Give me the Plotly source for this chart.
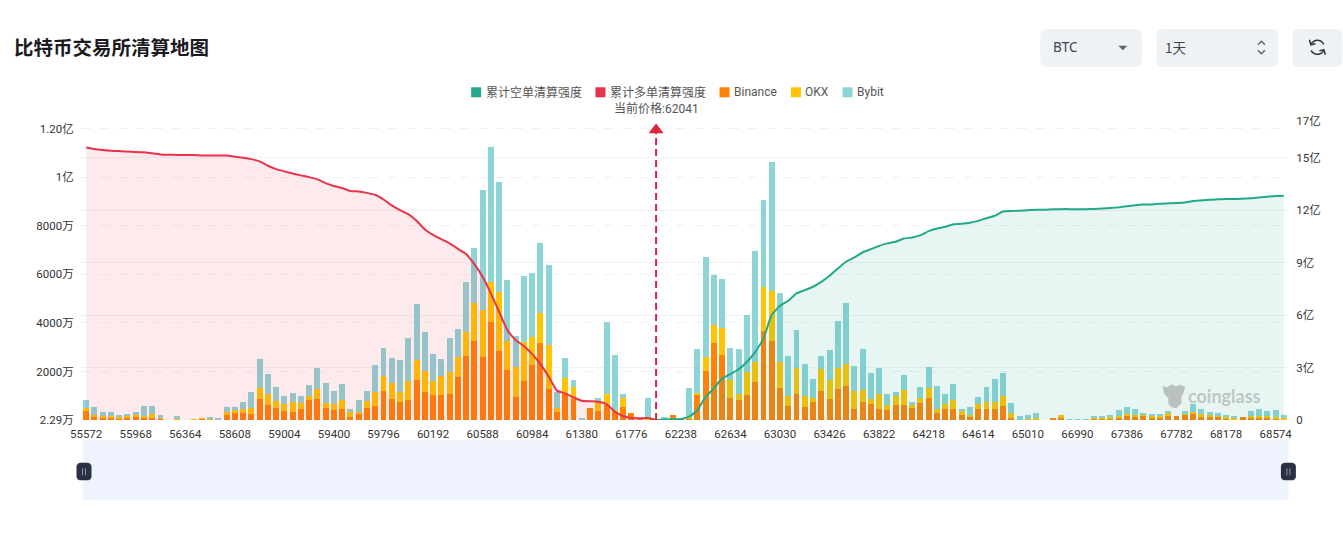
import math
import plotly.graph_objects as go

# Liquidation levels (price buckets)
prices = [
    55572, 55638, 55704, 55770, 55836, 55902, 55968, 56034, 56100, 56166, 56232, 56298, 56364,
    58278, 58344, 58410, 58476, 58542, 58608, 58674, 58740, 58806, 58872, 58938, 59004, 59070,
    59136, 59202, 59268, 59334, 59400, 59466, 59532, 59598, 59664, 59730, 59796, 59862, 59928,
    59994, 60060, 60126, 60192, 60258, 60324, 60390, 60456, 60522, 60588, 60654, 60720, 60786,
    60852, 60918, 60984, 61050, 61116, 61182, 61248, 61314, 61380, 61446, 61512, 61578, 61644,
    61710, 61776, 61842, 61908, 62040, 62106, 62172, 62238, 62304, 62370, 62436, 62502, 62568,
    62634, 62700, 62766, 62832, 62898, 62964, 63030, 63096, 63162, 63228, 63294, 63360, 63426,
    63492, 63558, 63624, 63690, 63756, 63822, 63888, 63954, 64020, 64086, 64152, 64218, 64284,
    64350, 64416, 64482, 64548, 64614, 64680, 64746, 64812, 64878, 64944, 65010, 65076, 66726,
    66792, 66858, 66924, 66990, 67056, 67122, 67188, 67254, 67320, 67386, 67452, 67518, 67584,
    67650, 67716, 67782, 67848, 67914, 67980, 68046, 68112, 68178, 68244, 68310, 68376, 68442,
    68508, 68574, 68640,
]
tick_prices = prices[::6][:25]

# Per-exchange liquidation volume, in units of 10k USD
binance = [
    380, 136, 109, 109, 68, 122, 150, 95, 95, 68, 0, 15, 0, 27, 54, 40, 5, 204, 286, 300,
    258, 870, 640, 490, 354, 340, 462, 816, 857, 503, 408, 476, 136, 272, 503, 571, 1183, 870, 748, 816,
    1632, 1142, 1020, 1020, 1061, 1754, 2652, 3237, 2611, 4039, 2856, 2081, 938, 1591, 2258, 3182, 1265, 326, 1088, 884,
    27, 490, 367, 612, 340, 530, 272, 82, 20, 0, 50, 190, 10, 68, 1020, 2013, 3155, 2693, 925, 843,
    1020, 1564, 3672, 3237, 1306, 585, 1061, 530, 748, 1210, 884, 1278, 1414, 462, 748, 680, 462, 408, 626, 626,
    490, 694, 911, 272, 435, 462, 190, 136, 435, 435, 435, 571, 68, 0, 20, 10, 0, 95, 95, 0,
    0, 0, 68, 68, 68, 122, 177, 150, 177, 109, 109, 177, 177, 218, 258, 136, 136, 136, 68, 41,
    109, 109, 95, 109, 68, 10,
]
okx = [
    110, 54, 68, 68, 41, 27, 41, 68, 150, 27, 0, 30, 0, 14, 27, 40, 10, 136, 122, 150,
    252, 435, 435, 300, 312, 394, 231, 177, 408, 204, 258, 340, 204, 68, 286, 571, 626, 666, 408, 775,
    843, 898, 585, 789, 898, 857, 966, 1578, 1904, 1646, 2434, 1183, 1264, 1605, 1156, 1210, 1836, 177, 639, 490,
    14, 0, 435, 462, 68, 394, 0, 0, 20, 0, 30, 0, 0, 41, 109, 571, 762, 1115, 734, 245,
    952, 843, 1795, 2060, 1074, 422, 1088, 476, 150, 884, 775, 857, 884, 734, 490, 204, 612, 218, 367, 598,
    163, 204, 394, 204, 218, 354, 190, 54, 245, 289, 326, 408, 204, 0, 20, 85, 0, 0, 110, 0,
    0, 0, 41, 41, 41, 54, 54, 54, 68, 54, 41, 122, 0, 68, 68, 95, 54, 41, 54, 54,
    0, 68, 68, 54, 54, 100,
]
bybit = [
    326, 367, 136, 163, 95, 95, 122, 422, 354, 109, 0, 140, 0, 0, 0, 40, 55, 204, 122, 286,
    666, 1210, 830, 570, 340, 381, 286, 449, 898, 830, 530, 680, 136, 476, 394, 1142, 1156, 1020, 1319, 1782,
    2289, 1578, 1102, 707, 1428, 1129, 2066, 2256, 4959, 5546, 4527, 2488, 1251, 2735, 2627, 2912, 3283, 639, 830, 272,
    27, 0, 122, 2965, 2258, 136, 0, 0, 880, 0, 30, 0, 0, 1224, 1809, 4144, 2042, 1986, 1319, 1850,
    2353, 4554, 3595, 5343, 2842, 1618, 1564, 1319, 775, 558, 1224, 1943, 2508, 1047, 1700, 1047, 1061, 462, 177, 612,
    82, 449, 870, 911, 408, 653, 54, 354, 258, 639, 911, 979, 422, 150, 150, 177, 0, 0, 0, 14,
    10, 20, 41, 41, 95, 218, 313, 245, 41, 95, 95, 82, 0, 68, 326, 231, 122, 95, 95, 82,
    0, 177, 286, 190, 299, 80,
]

# Cumulative liquidation intensity, in units of 100M USD
long_cumulative = [
    15.59, 15.50, 15.44, 15.40, 15.38, 15.36, 15.32, 15.31, 15.25, 15.19, 15.17, 15.16, 15.15, 15.15,
    15.13, 15.13, 15.13, 15.12, 15.06, 15.00, 14.92, 14.79, 14.54, 14.35, 14.22, 14.10, 13.99, 13.89,
    13.76, 13.55, 13.38, 13.27, 13.09, 13.07, 12.99, 12.88, 12.61, 12.27, 12.00, 11.77, 11.39, 10.90,
    10.59, 10.34, 10.10, 9.79, 9.49, 8.91, 8.19, 7.24, 6.19, 5.14, 4.57, 4.23, 3.77, 3.20, 2.48,
    1.68, 1.52, 1.30, 1.10, 1.07, 1.05, 0.91, 0.48, 0.23, 0.11, 0.10, 0.11, 0.0,
]
short_cumulative = [
    0.0, 0.03, 0.04, 0.06, 0.19, 0.57, 1.33, 1.81, 2.38, 2.63, 2.90, 3.33, 3.90, 4.67, 6.00, 6.53,
    6.82, 7.24, 7.43, 7.62, 7.90, 8.25, 8.67, 9.05, 9.30, 9.58, 9.77, 9.96, 10.10, 10.19, 10.38, 10.44,
    10.57, 10.80, 10.95, 11.05, 11.20, 11.22, 11.28, 11.39, 11.54, 11.68, 11.92, 11.95, 11.97, 12.00, 12.03, 12.03,
    12.05, 12.06, 12.06, 12.05, 12.06, 12.07, 12.09, 12.12, 12.16, 12.22, 12.28, 12.32, 12.33, 12.37,
    12.39, 12.41, 12.44, 12.52, 12.56, 12.60, 12.62, 12.64, 12.64, 12.66, 12.68, 12.73, 12.77, 12.81, 12.83,
]

left_ticks = [2.29, 2000, 4000, 6000, 8000, 10000, 12000]
left_labels = ["2.29万", "2000万", "4000万", "6000万", "8000万", "1亿", "1.20亿"]
right_ticks = [0, 3, 6, 9, 12, 15, 17.1]
right_labels = ["0", "3亿", "6亿", "9亿", "12亿", "15亿", "17亿"]

current_price_bucket = "62040"
arrow_top = 16.58

GREEN = "#22a98a"
RED = "#e8334a"
ORANGE = "#ff8207"
YELLOW = "#ffc403"
TEAL = "#8dd4d6"
FONT = 'Roboto, "Noto Sans CJK SC", sans-serif'

W, H = 1343, 537
L, R, T, B = 82.0, 1287.6, 120.7, 419.7


def px(x):
    return (x - L) / (R - L)


def py(y):
    return (B - y) / (B - T)


def poly(points, close=True):
    d = "M" + " L".join(f"{px(x):.5f},{py(y):.5f}" for x, y in points)
    return d + (" Z" if close else "")


def round_rect(x0, y0, x1, y1, r):
    """Rounded rectangle outline as a closed polygon, in window pixels."""
    pts = []
    for cx, cy, a0 in ((x1 - r, y0 + r, -90), (x1 - r, y1 - r, 0), (x0 + r, y1 - r, 90), (x0 + r, y0 + r, 180)):
        for k in range(7):
            a = math.radians(a0 + 15 * k)
            pts.append((cx + r * math.cos(a), cy + r * math.sin(a)))
    return poly(pts)


def arc(cx, cy, r, a0, a1, n=14):
    return [(cx + r * math.cos(math.radians(a0 + (a1 - a0) * k / n)),
             cy + r * math.sin(math.radians(a0 + (a1 - a0) * k / n))) for k in range(n + 1)]


cats = [str(p) for p in prices]
fig = go.Figure()

for name, vals, col in (("Binance", binance, ORANGE), ("OKX", okx, YELLOW), ("Bybit", bybit, TEAL)):
    fig.add_bar(x=cats, y=vals, name=name, marker=dict(color=col, line_width=0), yaxis="y", showlegend=False)

fig.add_scatter(
    x=cats[:len(long_cumulative)], y=long_cumulative, yaxis="y2", name="累计多单清算强度", mode="lines",
    line=dict(color=RED, width=2, shape="spline", smoothing=0.5),
    fill="tozeroy", fillcolor="rgba(232,51,74,0.10)", showlegend=False,
)
fig.add_scatter(
    x=cats[-len(short_cumulative):], y=short_cumulative, yaxis="y2", name="累计空单清算强度", mode="lines",
    line=dict(color=GREEN, width=2, shape="spline", smoothing=0.5),
    fill="tozeroy", fillcolor="rgba(34,169,138,0.10)", showlegend=False,
)
fig.add_scatter(
    x=[current_price_bucket, current_price_bucket], y=[0, arrow_top], yaxis="y2", mode="lines+markers",
    line=dict(color="#dc2440", width=2, dash="7px,4px"),
    marker=dict(symbol="triangle-up", size=[0, 13], color="#dc2440", opacity=1, line_width=0),
    showlegend=False, hoverinfo="skip",
)

shapes = []
annotations = []


def text(x, y, s, size=12, color="#555", anchor="left", weight=None, family=FONT):
    annotations.append(dict(
        x=px(x), y=py(y), xref="paper", yref="paper", text=s, showarrow=False, xanchor=anchor, yanchor="middle",
        align=anchor, borderpad=0, font=dict(family=family, size=size, color=color, weight=weight),
    ))


def fill_shape(path, color, layer="above"):
    shapes.append(dict(type="path", xref="paper", yref="paper", path=path, fillcolor=color,
                       line=dict(width=0), layer=layer))


def stroke_shape(path, color, width):
    shapes.append(dict(type="path", xref="paper", yref="paper", path=path,
                       line=dict(color=color, width=width)))


# Page heading
text(13.5, 46.5, "比特币交易所清算地图", size=19.5, color="#1b1b1f", weight=700, family='"Noto Sans CJK SC", sans-serif')

# Legend row
legend_items = [
    (471, 484.5, "累计空单清算强度", GREEN),
    (595.3, 608.5, "累计多单清算强度", RED),
    (719.3, 732.3, "Binance", ORANGE),
    (790.7, 803.7, "OKX", YELLOW),
    (842.3, 855.3, "Bybit", TEAL),
]
for sx, tx, label, col in legend_items:
    fill_shape(poly([(sx, 87), (sx + 10, 87), (sx + 10, 97), (sx, 97)]), col)
    text(tx, 92, label)
text(656, 107.7, "当前价格:62041", anchor="center")

# Symbol / period selectors and refresh button
for x0, x1 in ((1041, 1140.5), (1157, 1277), (1293, 1341)):
    fill_shape(round_rect(x0 - 1, 29, x1 + 1, 66.5, 6), "rgba(210,215,222,0.35)")
    fill_shape(round_rect(x0, 29, x1, 64.5, 5), "#eff2f5")
text(1052, 47, "BTC", size=13.5, color="#3c4350", family='"Noto Sans", sans-serif')
text(1164, 47, "1天", size=13.5, color="#3c4350", family='"Noto Sans CJK SC", sans-serif')
fill_shape(poly([(1118, 45.5), (1127, 45.5), (1122.5, 50)]), "#5f6672")
stroke_shape(poly([(1257.5, 44.5), (1261, 41), (1264.5, 44.5)], close=False), "#5f6672", 1.4)
stroke_shape(poly([(1257.5, 50), (1261, 53.5), (1264.5, 50)], close=False), "#5f6672", 1.4)
stroke_shape(poly(arc(1317, 47, 7, 200, 335), close=False), "#2f3541", 1.5)
stroke_shape(poly(arc(1317, 47, 7, 20, 155), close=False), "#2f3541", 1.5)
stroke_shape(poly([(1309, 39.5), (1310.5, 44.5), (1315, 43.5)], close=False), "#2f3541", 1.5)
stroke_shape(poly([(1325, 54.5), (1323.5, 49.5), (1319, 50.5)], close=False), "#2f3541", 1.5)

# Zoom slider strip
fill_shape(poly([(83, 440), (1288, 440), (1288, 499.5), (83, 499.5)]), "#eef3fd")
for cx in (84, 1288):
    fill_shape(round_rect(cx - 7.5, 462.5, cx + 7.5, 480, 4), "#2b3044")
    for dx in (-1.5, 1.5):
        stroke_shape(poly([(cx + dx, 468), (cx + dx, 475)], close=False), "#9097a6", 1)

# Watermark
fill_shape(poly([(1162, 386), (1167, 387), (1171, 384), (1175, 386), (1180, 384.5), (1185, 387), (1183, 393),
                 (1181, 397), (1181, 403), (1176, 408), (1171, 407), (1168, 404), (1168, 398), (1164, 394)]),
           "rgba(175,180,180,0.8)")
text(1187, 396, "coinglass", size=18, color="rgba(185,192,192,0.9)", weight=700, family="Lato, sans-serif")

tick_font = dict(family=FONT, size=11.5, color="#333")
fig.update_layout(
    width=W, height=H, autosize=False,
    margin=dict(l=L, r=W - R, t=T, b=H - B, pad=0),
    paper_bgcolor="white", plot_bgcolor="white",
    barmode="stack", bargap=0.28,
    showlegend=False, hovermode="x",
    shapes=shapes, annotations=annotations,
    xaxis=dict(
        type="category", categoryorder="array", categoryarray=cats, range=[-0.5, 145.5],
        tickmode="array", tickvals=[str(p) for p in tick_prices], ticktext=[str(p) for p in tick_prices],
        tickangle=0, ticks="outside", ticklen=3, tickcolor="rgba(0,0,0,0)", showgrid=False,
        showline=False, zeroline=False, tickfont=tick_font,
    ),
    yaxis=dict(
        range=[2.29, 12315], tickmode="array", tickvals=left_ticks, ticktext=left_labels,
        ticks="outside", ticklen=5, tickcolor="rgba(0,0,0,0)", showline=False, zeroline=False,
        gridcolor="#f1f1f1", griddash="dash", gridwidth=1, tickfont=tick_font,
    ),
    yaxis2=dict(
        overlaying="y", side="right", range=[0, 17.1], tickmode="array", tickvals=right_ticks, ticktext=right_labels,
        ticks="outside", ticklen=5, tickcolor="rgba(0,0,0,0)", showline=False, zeroline=False,
        gridcolor="#f1f1f1", gridwidth=1, tickfont=tick_font,
    ),
)

fig.write_html("out.html")
